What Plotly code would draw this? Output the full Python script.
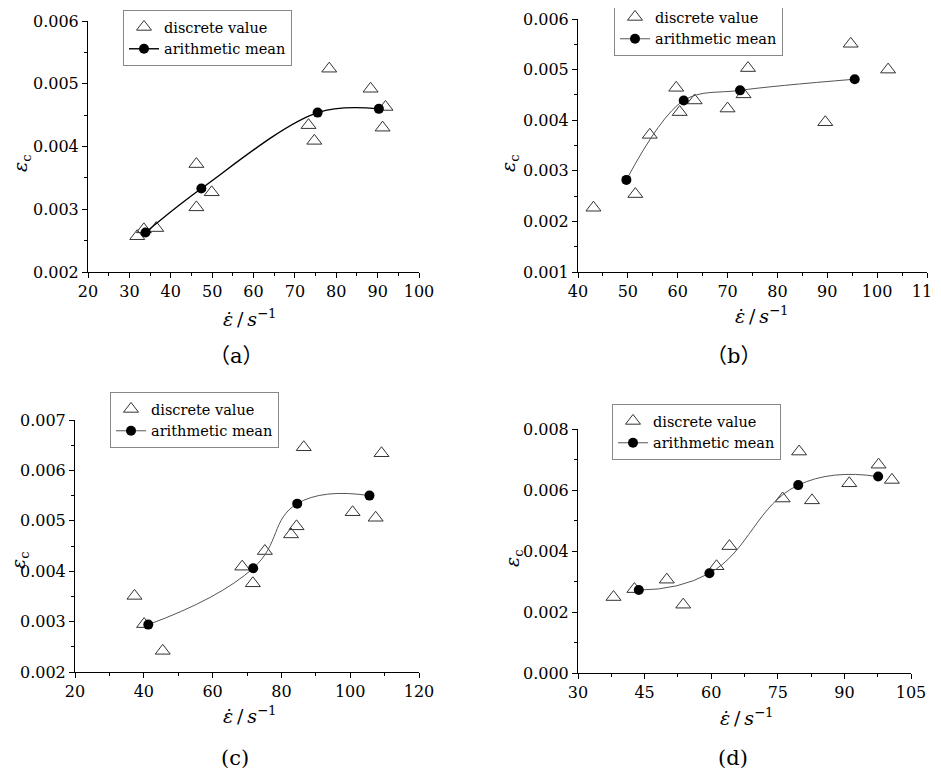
import plotly.graph_objects as go

# ---- panel (a) ----
a_disc_x = [31.9, 33.5, 36.5, 46.2, 46.2, 49.9, 73.3, 74.7, 78.3, 88.3, 91.9, 91.2]
a_disc_y = [0.00257, 0.00268, 0.00270, 0.00372, 0.00303, 0.00327,
            0.00434, 0.00409, 0.00524, 0.00492, 0.00463, 0.00430]
a_mean_x = [33.9, 47.4, 75.5, 90.3]
a_mean_y = [0.00263, 0.00333, 0.00454, 0.00460]

# ---- panel (b) ----
b_disc_x = [43.1, 51.5, 54.4, 59.7, 60.4, 63.4, 70.0, 73.2, 74.1, 89.6, 94.7, 102.2]
b_disc_y = [0.00227, 0.00254, 0.00371, 0.00464, 0.00416, 0.00439,
            0.00423, 0.00451, 0.00503, 0.00396, 0.00551, 0.00500]
b_mean_x = [49.7, 61.2, 72.5, 95.5]
b_mean_y = [0.00282, 0.00439, 0.00459, 0.00481]

# ---- panel (c) ----
c_disc_x = [37.3, 40.1, 45.5, 68.6, 71.7, 75.2, 82.8, 84.4, 86.5, 100.7, 107.4, 109.1]
c_disc_y = [0.00351, 0.00295, 0.00242, 0.00409, 0.00376, 0.00440,
            0.00473, 0.00489, 0.00646, 0.00517, 0.00506, 0.00634]
c_mean_x = [41.3, 71.8, 84.6, 105.6]
c_mean_y = [0.00294, 0.00406, 0.00534, 0.00550]

# ---- panel (d) ----
d_disc_x = [38.0, 42.7, 50.0, 53.7, 61.2, 64.1, 76.1, 79.8, 82.7, 91.1, 97.7, 100.7]
d_disc_y = [0.00249, 0.00275, 0.00306, 0.00224, 0.00350, 0.00416,
            0.00572, 0.00726, 0.00566, 0.00622, 0.00683, 0.00633]
d_mean_x = [43.7, 59.6, 79.6, 97.6]
d_mean_y = [0.00272, 0.00327, 0.00616, 0.00644]

# page body has an 8px margin, so the figure is drawn 8px in from the corner
OFF = 8
W, H = 941 - OFF, 770 - OFF
FONT = "DejaVu Serif"
CAP_FONT = "DejaVu Serif, Noto Sans CJK SC"
XTITLE = "<i>ε̇</i>\u2009/\u2009<i>s</i><sup>−1</sup>"


def px(x):
    return (x - OFF) / W


def py(y):
    return 1 - (y - OFF) / H


panels = [
    dict(disc=(a_disc_x, a_disc_y), mean=(a_mean_x, a_mean_y), line="#000000", lw=1.4, sm=1.0,
         box=(88, 419, 21, 272), xr=[20, 100], xd=10, xm=5, yr=[0.002, 0.006], yd=0.001, ym=0.0005,
         leg=(123, 10), xt=(250, 318), yt=(22, 163), cap="（a）", capxy=(236, 356)),
    dict(disc=(b_disc_x, b_disc_y), mean=(b_mean_x, b_mean_y), line="#555555", lw=1.0, sm=1.0,
         box=(578, 927, 19, 272), xr=[40, 110], xd=10, xm=5, yr=[0.001, 0.006], yd=0.001, ym=0.0005,
         leg=(614, 0), xt=(762, 315), yt=(510, 163), cap="（b）", capxy=(733, 356)),
    dict(disc=(c_disc_x, c_disc_y), mean=(c_mean_x, c_mean_y), line="#555555", lw=1.0, sm=1.3,
         box=(75, 419, 420, 672), xr=[20, 120], xd=20, xm=10, yr=[0.002, 0.007], yd=0.001, ym=0.0005,
         leg=(110, 392), xt=(250, 715), yt=(19, 560), cap="(c)", capxy=(235, 758)),
    dict(disc=(d_disc_x, d_disc_y), mean=(d_mean_x, d_mean_y), line="#555555", lw=1.0, sm=1.3,
         box=(578, 911, 429, 673), xr=[30, 105], xd=15, xm=7.5, yr=[0.0, 0.008], yd=0.002, ym=0.001,
         leg=(612, 404), xt=(747, 717), yt=(513, 558), cap="(d)", capxy=(733, 758)),
]

fig = go.Figure()
annotations = []
layout = {}

for i, p in enumerate(panels, start=1):
    sfx = "" if i == 1 else str(i)
    leg = "legend" + sfx
    fig.add_trace(go.Scatter(
        x=p["disc"][0], y=p["disc"][1], mode="markers", name="discrete value",
        xaxis="x" + sfx, yaxis="y" + sfx, legend=leg, cliponaxis=False,
        marker=dict(symbol="triangle-up-open", size=13, color="#333333", line=dict(width=1)),
    ))
    fig.add_trace(go.Scatter(
        x=p["mean"][0], y=p["mean"][1], mode="lines+markers", name="arithmetic mean",
        xaxis="x" + sfx, yaxis="y" + sfx, legend=leg, cliponaxis=False,
        line=dict(color=p["line"], width=p["lw"], shape="spline", smoothing=p["sm"]),
        marker=dict(symbol="circle", size=10, color="#000000"),
    ))

    x0, x1, y0, y1 = p["box"]
    axis_common = dict(
        showline=True, linecolor="black", linewidth=1, mirror=False, automargin=False,
        ticks="outside", ticklen=5, tickcolor="black", tickwidth=1,
        showgrid=False, zeroline=False, ticklabeloverflow="allow",
        tickfont=dict(family=FONT, size=16, color="black"),
    )
    layout["xaxis" + sfx] = dict(
        axis_common, domain=[px(x0), px(x1)], range=p["xr"], dtick=p["xd"], tick0=p["xr"][0],
        anchor="y" + sfx,
        minor=dict(dtick=p["xm"], ticks="outside", ticklen=3, tickcolor="black", showgrid=False),
    )
    layout["yaxis" + sfx] = dict(
        axis_common, domain=[py(y1), py(y0)], range=p["yr"], dtick=p["yd"], tick0=p["yr"][0],
        anchor="x" + sfx, tickformat=".3f",
        minor=dict(dtick=p["ym"], ticks="outside", ticklen=3, tickcolor="black", showgrid=False),
    )
    layout[leg] = dict(
        x=px(p["leg"][0]), y=py(p["leg"][1]), xanchor="left", yanchor="top",
        bgcolor="white", bordercolor="#888888", borderwidth=1,
        font=dict(family=FONT, size=14.5, color="black"), tracegroupgap=0,
    )

    common = dict(xref="paper", yref="paper", showarrow=False, xanchor="center", yanchor="middle")
    annotations.append(dict(
        common, x=px(p["xt"][0]), y=py(p["xt"][1]),
        text=XTITLE, font=dict(family=FONT, size=19, color="black"),
    ))
    annotations.append(dict(
        common, x=px(p["yt"][0]), y=py(p["yt"][1]),
        text="<i>ε</i><sub>c</sub>", textangle=-90, font=dict(family=FONT, size=19, color="black"),
    ))
    annotations.append(dict(
        common, x=px(p["capxy"][0]), y=py(p["capxy"][1]),
        text=p["cap"], font=dict(family=CAP_FONT, size=21, color="black"),
    ))

fig.update_layout(
    **layout,
    template="none",
    width=W, height=H,
    margin=dict(l=0, r=0, t=0, b=0, autoexpand=False),
    paper_bgcolor="white", plot_bgcolor="white",
    annotations=annotations,
    showlegend=True,
)

fig.write_html("out.html")
